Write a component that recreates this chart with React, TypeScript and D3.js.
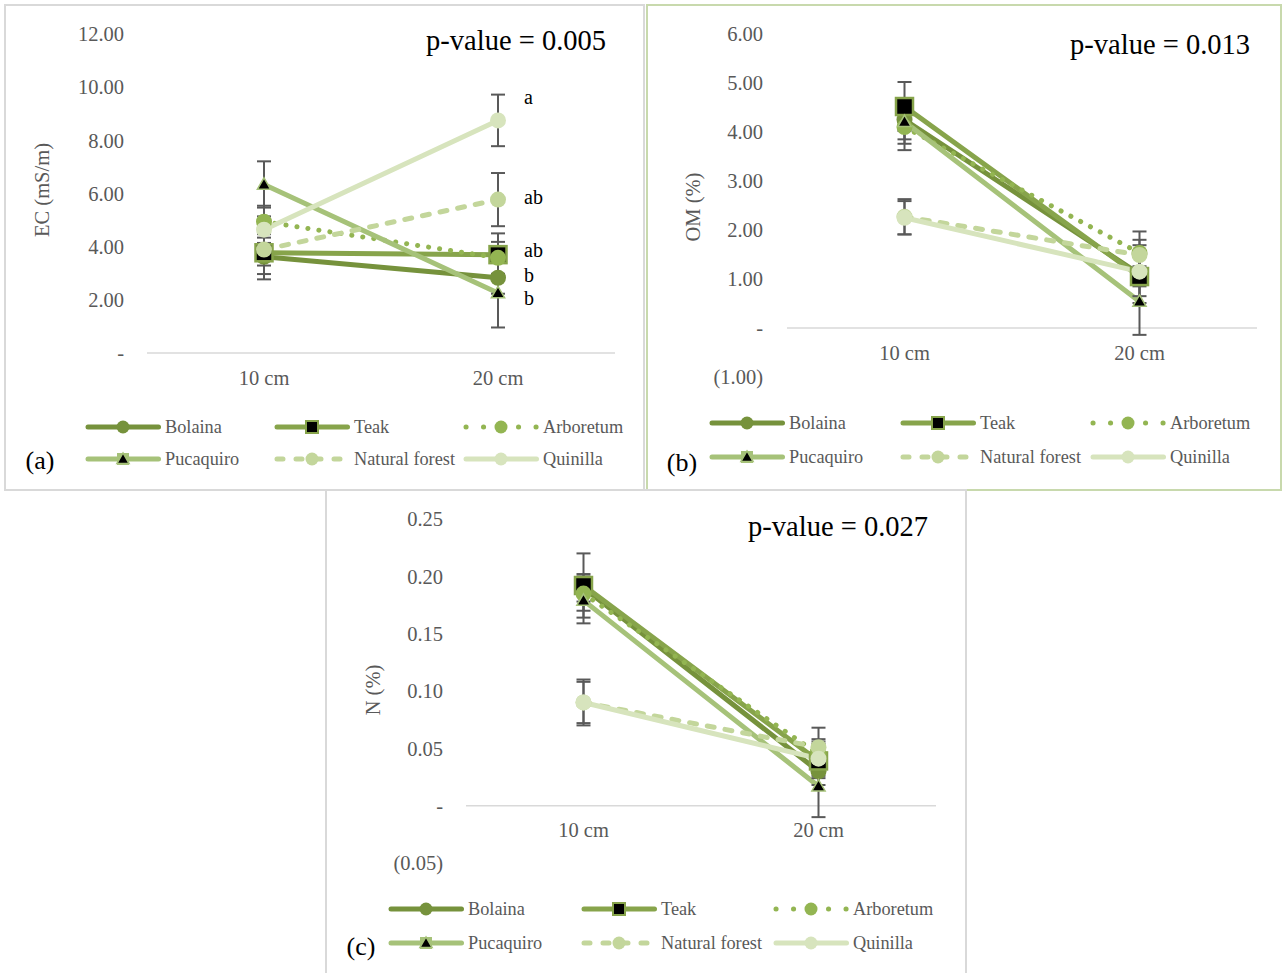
import * as d3 from "d3";

const depths = ["10 cm", "20 cm"];
const species = ["Bolaina", "Teak", "Arboretum", "Pucaquiro", "Natural forest", "Quinilla"];
const colors = ["#76923c", "#87a44b", "#93b552", "#a6c279", "#c3d69b", "#d7e4bd"];
const markers = ["circle", "square", "circle", "triangle", "circle", "circle"];
const dashes = [null, null, "0.1 11", null, "7 11", null];

// EC (mS/m)
const ecMeans = [[3.62, 2.83], [3.77, 3.7], [4.94, 3.58], [6.34, 2.26], [3.89, 5.77], [4.64, 8.75]];
const ecErrors = [[0.85, 0.6], [0.8, 0.8], [0.6, 0.6], [0.87, 1.3], [0.6, 1.0], [0.5, 0.97]];
const ecLetters = ["b", "ab", "", "b", "ab", "a"];
const ecTicks = [0, 2, 4, 6, 8, 10, 12];

// OM (%)
const omMeans = [[4.25, 1.1], [4.52, 1.05], [4.1, 1.53], [4.21, 0.54], [2.27, 1.49], [2.25, 1.15]];
const omErrors = [[0.4, 0.59], [0.5, 0.4], [0.47, 0.27], [0.45, 0.68], [0.36, 0.48], [0.34, 0.3]];
const omTicks = [-1, 0, 1, 2, 3, 4, 5, 6];

// N (%)
const nMeans = [[0.19, 0.03], [0.192, 0.039], [0.185, 0.045], [0.179, 0.017], [0.09, 0.051], [0.09, 0.041]];
const nErrors = [[0.012, 0.012], [0.028, 0.015], [0.015, 0.013], [0.02, 0.027], [0.02, 0.017], [0.018, 0.015]];
const nTicks = [-0.05, 0, 0.05, 0.1, 0.15, 0.2, 0.25];

const serif = "'Liberation Serif', 'Times New Roman', serif";
const grey = "#595959";

const fmt = (v: number, digits: number) => {
  if (Math.abs(v) < 1e-9) return "-";
  if (v < 0) return `(${Math.abs(v).toFixed(digits)})`;
  return v.toFixed(digits);
};

function Marker({ kind, x, y, color, small }: { kind: string; x: number; y: number; color: string; small?: boolean }) {
  if (kind === "square") {
    const s = small ? 12 : 17;
    return <rect x={x - s / 2} y={y - s / 2} width={s} height={s} fill="#000" stroke={color} strokeWidth={small ? 2 : 2.5} />;
  }
  if (kind === "triangle") {
    const s = small ? 12 : 13;
    const tri = d3.symbol(d3.symbolTriangle, s * s * 0.45)();
    return (
      <g transform={`translate(${x},${y + 1})`}>
        <rect x={-s / 2} y={-s / 2 - 1} width={s} height={s} fill={color} opacity={small ? 1 : 0} />
        <path d={tri || ""} fill="#000" stroke={color} strokeWidth={1.5} />
      </g>
    );
  }
  return <circle cx={x} cy={y} r={small ? 6.5 : 8} fill={color} />;
}

type PanelProps = {
  box: [number, number, number, number];
  boxColor: string;
  left: number;
  right: number;
  yPx: [number, number];
  domain: [number, number];
  ticks: number[];
  tickX: number;
  means: number[][];
  errors: number[][];
  letters?: string[];
  title: string;
  titlePos: [number, number];
  pValue: string;
  pPos: [number, number];
  catY: number;
  legendCols: number[];
  legendRows: number[];
  tag: string;
  tagPos: [number, number];
};

const letterDy = [-3, -5, 0, 5, -3, -23];

function Panel(p: PanelProps) {
  const x = d3.scalePoint<string>().domain(depths).range([p.left, p.right]).padding(0.5);
  const y = d3.scaleLinear().domain(p.domain).range(p.yPx);
  const line = d3
    .line<number>()
    .x((_, i) => x(depths[i]) as number)
    .y((d) => y(d));
  const [bx, by, bw, bh] = p.box;
  return (
    <g>
      <rect x={bx} y={by} width={bw} height={bh} fill="#fff" stroke={p.boxColor} strokeWidth={2} />
      {p.ticks.map((t) => (
        <text key={t} x={p.tickX} y={y(t)} dy="0.35em" textAnchor="end" fontSize={20.5} fill={grey} fontFamily={serif}>
          {fmt(t, 2)}
        </text>
      ))}
      <line x1={p.left} x2={p.right} y1={y(0)} y2={y(0)} stroke="#d9d9d9" strokeWidth={1.5} />
      {depths.map((d) => (
        <text key={d} x={x(d)} y={p.catY} dy="0.35em" textAnchor="middle" fontSize={20.5} fill={grey} fontFamily={serif}>
          {d}
        </text>
      ))}
      <text
        transform={`translate(${p.titlePos[0]},${p.titlePos[1]}) rotate(-90)`}
        textAnchor="middle"
        dy="0.35em"
        fontSize={20.5}
        fill={grey}
        fontFamily={serif}
      >
        {p.title}
      </text>
      <text x={p.pPos[0]} y={p.pPos[1]} dy="0.35em" textAnchor="end" fontSize={28.5} fill="#000" fontFamily={serif}>
        {p.pValue}
      </text>
      {species.map((s, i) => (
        <path
          key={s}
          d={line(p.means[i]) || ""}
          fill="none"
          stroke={colors[i]}
          strokeWidth={5}
          strokeLinecap="round"
          strokeDasharray={dashes[i] || undefined}
        />
      ))}
      {species.map((s, i) =>
        p.means[i].map((m, j) => {
          const cx = x(depths[j]) as number;
          const e = p.errors[i][j];
          return (
            <g key={`${s}-${j}`} stroke={grey} strokeWidth={2}>
              <line x1={cx} x2={cx} y1={y(m - e)} y2={y(m + e)} />
              <line x1={cx - 7} x2={cx + 7} y1={y(m - e)} y2={y(m - e)} />
              <line x1={cx - 7} x2={cx + 7} y1={y(m + e)} y2={y(m + e)} />
            </g>
          );
        })
      )}
      {species.map((s, i) =>
        p.means[i].map((m, j) => (
          <Marker key={`${s}-m${j}`} kind={markers[i]} x={x(depths[j]) as number} y={y(m)} color={colors[i]} />
        ))
      )}
      {p.letters &&
        p.letters.map((l, i) =>
          l ? (
            <text
              key={`l${i}`}
              x={(x(depths[1]) as number) + 26}
              y={y(p.means[i][1]) + letterDy[i]}
              dy="0.35em"
              fontSize={20}
              fill="#000"
              fontFamily={serif}
            >
              {l}
            </text>
          ) : null
        )}
      {species.map((s, i) => {
        const lx = p.legendCols[i % 3];
        const ly = p.legendRows[Math.floor(i / 3)];
        return (
          <g key={`leg${s}`}>
            <line
              x1={lx}
              x2={lx + 70.5}
              y1={ly}
              y2={ly}
              stroke={colors[i]}
              strokeWidth={5}
              strokeLinecap="round"
              strokeDasharray={dashes[i] ? (i === 2 ? "0.1 17.4" : "6 13") : undefined}
            />
            <Marker kind={markers[i]} x={lx + 35} y={ly} color={colors[i]} small />
            <text x={lx + 77} y={ly} dy="0.35em" fontSize={18.3} fill={grey} fontFamily={serif}>
              {s}
            </text>
          </g>
        );
      })}
      <text x={p.tagPos[0]} y={p.tagPos[1]} dy="0.35em" textAnchor="middle" fontSize={26} fill="#000" fontFamily={serif}>
        {p.tag}
      </text>
    </g>
  );
}

export default function App() {
  return (
    <svg width={1282} height={973} style={{ position: "absolute", left: 0, top: 0, background: "#fff" }}>
      <Panel
        box={[5, 5, 639, 485]}
        boxColor="#d9d9d9"
        left={147}
        right={615}
        yPx={[353, 34]}
        domain={[0, 12]}
        ticks={ecTicks}
        tickX={124}
        means={ecMeans}
        errors={ecErrors}
        letters={ecLetters}
        title="EC (mS/m)"
        titlePos={[42, 190]}
        pValue="p-value = 0.005"
        pPos={[606, 40]}
        catY={378}
        legendCols={[88, 277, 466]}
        legendRows={[427, 459]}
        tag="(a)"
        tagPos={[40, 460]}
      />
      <Panel
        box={[647, 5, 634, 485]}
        boxColor="#c8d9ad"
        left={787}
        right={1257}
        yPx={[377, 34]}
        domain={[-1, 6]}
        ticks={omTicks}
        tickX={763}
        means={omMeans}
        errors={omErrors}
        title="OM (%)"
        titlePos={[693, 207]}
        pValue="p-value = 0.013"
        pPos={[1250, 44]}
        catY={353}
        legendCols={[712, 903, 1093]}
        legendRows={[423, 457]}
        tag="(b)"
        tagPos={[682, 462]}
      />
      <Panel
        box={[326, 490, 640, 484]}
        boxColor="#d9d9d9"
        left={466}
        right={936}
        yPx={[863, 519]}
        domain={[-0.05, 0.25]}
        ticks={nTicks}
        tickX={443}
        means={nMeans}
        errors={nErrors}
        title="N (%)"
        titlePos={[373, 690]}
        pValue="p-value = 0.027"
        pPos={[928, 526]}
        catY={830}
        legendCols={[391, 584, 776]}
        legendRows={[909, 943]}
        tag="(c)"
        tagPos={[361, 946]}
      />
    </svg>
  );
}
